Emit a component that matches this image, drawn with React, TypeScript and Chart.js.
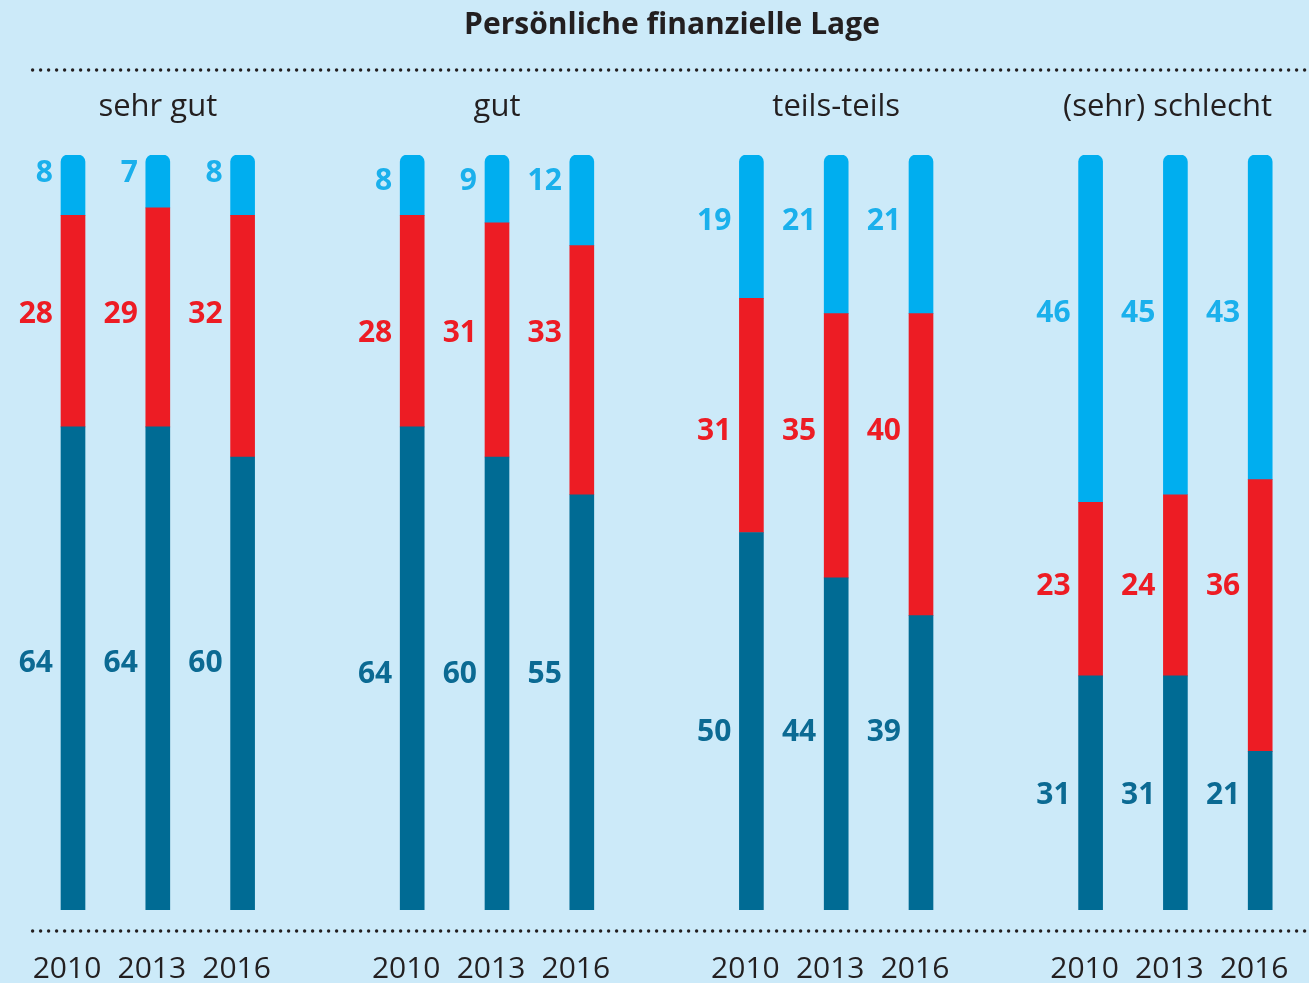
import React, { useEffect, useRef } from "react";
import { Chart, registerables } from "chart.js";

Chart.register(...registerables);

const chartTitle = "Persönliche finanzielle Lage";
const groupNames = ["sehr gut", "gut", "teils-teils", "(sehr) schlecht"];
const years = ["2010", "2013", "2016"];
// per group: 2010, 2013, 2016
const topValues = [8, 7, 8, 8, 9, 12, 19, 21, 21, 46, 45, 43];
const middleValues = [28, 29, 32, 28, 31, 33, 31, 35, 40, 23, 24, 36];
const bottomValues = [64, 64, 60, 64, 60, 55, 50, 44, 39, 31, 31, 21];

const BG = "#cceaf9";
const TEXT = "#231f20";
const C_TOP = "#00aeef";
const C_MID = "#ed1c24";
const C_BOT = "#006b94";
const LABEL_TOP = "#1ab0ec";
const LABEL_MID = "#ed1c24";
const LABEL_BOT = "#0b6a93";
const FONT = "'Open Sans', 'Noto Sans', sans-serif";

// build slots: 3 bars per group, an empty slot between groups
const slotLabels: string[] = [];
const slotGroup: number[] = [];
const slotIndex: number[] = [];
groupNames.forEach((_, g) => {
  years.forEach((y, i) => {
    slotLabels.push(y);
    slotGroup.push(g);
    slotIndex.push(g * years.length + i);
  });
  if (g < groupNames.length - 1) {
    slotLabels.push("");
    slotGroup.push(-1);
    slotIndex.push(-1);
  }
});
const toSlots = (vals: number[]) => slotIndex.map((k) => (k < 0 ? null : vals[k]));

export default function App() {
  const ref = useRef<HTMLCanvasElement | null>(null);
  useEffect(() => {
    document.body.style.margin = "0";
    const canvas = ref.current!;
    const decor = {
      id: "decor",
      beforeDraw(chart: any) {
        const ctx = chart.ctx;
        ctx.save();
        ctx.fillStyle = BG;
        ctx.fillRect(0, 0, chart.width, chart.height);
        ctx.restore();
      },
      afterDraw(chart: any) {
        const ctx = chart.ctx;
        const xs = chart.scales.x;
        const area = chart.chartArea;
        ctx.save();
        // title
        ctx.fillStyle = TEXT;
        ctx.textAlign = "center";
        ctx.textBaseline = "middle";
        ctx.font = `bold 30px ${FONT}`;
        ctx.fillText(chartTitle, 672, 25);
        // dotted lines
        ctx.fillStyle = "#231f20";
        [70, 931].forEach((yy) => {
          for (let x = area.left + 2; x <= chart.width - 3; x += 8) {
            ctx.beginPath();
            ctx.arc(x, yy, 1.7, 0, Math.PI * 2);
            ctx.fill();
          }
        });
        // group titles
        ctx.font = `31px ${FONT}`;
        ctx.fillStyle = TEXT;
        groupNames.forEach((name, g) => {
          const first = slotGroup.indexOf(g);
          const cx = (xs.getPixelForValue(first) + xs.getPixelForValue(first + 2)) / 2;
          const w = ctx.measureText(name).width;
          const x = Math.min(cx, chart.width - 37 - w / 2);
          ctx.fillText(name, x, 107);
        });
        // year labels
        ctx.font = `30px ${FONT}`;
        slotLabels.forEach((lab, s) => {
          if (!lab) return;
          ctx.fillText(lab, xs.getPixelForValue(s) - 6, 969);
        });
        // value labels
        ctx.font = `bold 30px ${FONT}`;
        ctx.textAlign = "right";
        const colors = [LABEL_BOT, LABEL_MID, LABEL_TOP];
        chart.data.datasets.forEach((ds: any, di: number) => {
          const meta = chart.getDatasetMeta(di);
          groupNames.forEach((_, g) => {
            const slots = slotGroup.map((gg, s) => (gg === g ? s : -1)).filter((s) => s >= 0);
            let sum = 0;
            slots.forEach((s) => {
              const el = meta.data[s];
              sum += (el.y + el.base) / 2;
            });
            const ly = sum / slots.length - 10;
            ctx.fillStyle = colors[di];
            slots.forEach((s) => {
              const el = meta.data[s];
              ctx.fillText(String(ds.data[s]), el.x - 20, ly);
            });
          });
        });
        ctx.restore();
      },
    };
    const chart = new Chart(canvas, {
      type: "bar",
      data: {
        labels: slotLabels,
        datasets: [
          { label: "unten", data: toSlots(bottomValues), backgroundColor: C_BOT, barThickness: 24, borderRadius: 0 },
          { label: "mitte", data: toSlots(middleValues), backgroundColor: C_MID, barThickness: 24, borderRadius: 0 },
          {
            label: "oben",
            data: toSlots(topValues),
            backgroundColor: C_TOP,
            barThickness: 24,
            borderSkipped: false,
            borderRadius: { topLeft: 7, topRight: 7, bottomLeft: 0, bottomRight: 0 },
          },
        ],
      },
      options: {
        responsive: false,
        animation: false,
        layout: { padding: { left: 30.6, right: 6.4, top: 155, bottom: 73 } },
        plugins: { legend: { display: false }, tooltip: { enabled: false }, title: { display: false } },
        scales: {
          x: { display: false, stacked: true, offset: true },
          y: { display: false, stacked: true, min: 0, max: 100 },
        },
      },
      plugins: [decor],
    });
    return () => chart.destroy();
  }, []);
  return <canvas ref={ref} width={1309} height={983} style={{ display: "block" }} />;
}
